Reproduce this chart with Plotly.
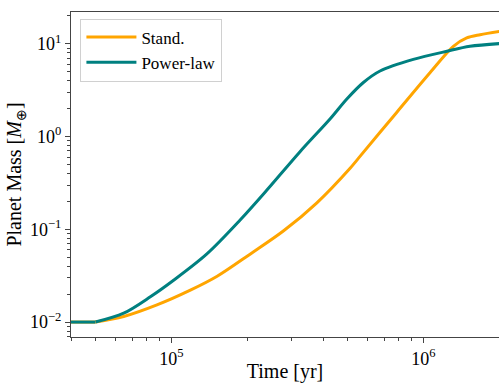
import plotly.graph_objects as go

# Data (time in yr, planet mass in Earth masses)
time_stand = [4.0e4, 5.0e4, 6.47e4, 8.77e4, 1.19e5, 1.52e5, 2.06e5, 2.79e5, 3.78e5,
              5.12e5, 5.52e5, 7.85e5, 1.064e6, 1.315e6, 1.486e6, 1.679e6, 2.0e6]
mass_stand = [0.01, 0.01, 0.01148, 0.01531, 0.02208, 0.03119, 0.05433, 0.09638, 0.1932,
              0.456, 0.582, 1.832, 4.898, 9.397, 11.56, 12.53, 13.58]

time_power = [4.0e4, 5.0e4, 6.47e4, 8.26e4, 1.021e5, 1.384e5, 1.875e5, 2.39e5, 3.24e5,
              4.27e5, 4.97e5, 5.78e5, 6.73e5, 9.12e5, 1.24e6, 1.53e6, 2.0e6]
mass_power = [0.01, 0.01, 0.01247, 0.01875, 0.02825, 0.0543, 0.1259, 0.263, 0.687,
              1.556, 2.541, 3.828, 5.093, 6.792, 8.318, 9.397, 10.05]

series_names = ["Stand.", "Power-law"]
series_colors = ["#FFA500", "#008080"]
kink_index = 1  # end of the flat initial segment (both series)

x_tick_vals = [1e5, 1e6]
x_tick_text = ["10<sup>5</sup>", "10<sup>6</sup>"]
y_tick_vals = [1e-2, 1e-1, 1e0, 1e1]
y_tick_text = ["10<sup>−2</sup>", "10<sup>−1</sup>", "10<sup>0</sup>", "10<sup>1</sup>"]

minor_x = [k * 10 ** e for e in range(4, 7) for k in range(2, 10)]
minor_y = [k * 10 ** e for e in range(-3, 2) for k in range(2, 10)]

FONT = "Liberation Serif, Times New Roman, serif"

fig = go.Figure()
for t, m, name, col in [(time_stand, mass_stand, series_names[0], series_colors[0]),
                        (time_power, mass_power, series_names[1], series_colors[1])]:
    # growth part, smooth
    fig.add_trace(go.Scatter(x=t[kink_index:], y=m[kink_index:], mode="lines", name=name,
                             legendgroup=name,
                             line=dict(color=col, width=3, shape="spline", smoothing=0.9)))
for t, m, name, col in [(time_stand, mass_stand, series_names[0], series_colors[0]),
                        (time_power, mass_power, series_names[1], series_colors[1])]:
    # flat initial part
    fig.add_trace(go.Scatter(x=t[:kink_index + 1], y=m[:kink_index + 1], mode="lines",
                             name=name, legendgroup=name, showlegend=False,
                             line=dict(color=col, width=3)))

axis_common = dict(showgrid=False, zeroline=False, showline=True, linecolor="#444",
                   linewidth=1, ticks="outside", ticklen=5, tickwidth=1, tickcolor="#444",
                   tickfont=dict(family=FONT, size=18, color="black"))

fig.update_xaxes(type="log", range=[4.602, 6.300], tickvals=x_tick_vals, ticktext=x_tick_text,
                 mirror=True,
                 minor=dict(tickvals=minor_x, ticks="outside", ticklen=3, tickcolor="#444"),
                 title=dict(text="Time [yr]", font=dict(family=FONT, size=20, color="black"),
                            standoff=0),
                 **axis_common)
fig.update_yaxes(type="log", range=[-2.161, 1.343], tickvals=y_tick_vals, ticktext=y_tick_text,
                 mirror=False,
                 minor=dict(tickvals=minor_y, ticks="outside", ticklen=3, tickcolor="#444"),
                 title=dict(text="Planet Mass [<i>M</i><sub>⊕</sub>]",
                            font=dict(family=FONT, size=20, color="black"), standoff=2),
                 **axis_common)

fig.update_layout(
    width=499, height=383,
    margin=dict(l=71, r=0, t=12, b=42),
    paper_bgcolor="white", plot_bgcolor="white",
    font=dict(family=FONT, color="black"),
    legend=dict(x=0.022, y=0.98, xanchor="left", yanchor="top",
                bgcolor="rgba(255,255,255,0.8)", bordercolor="#d0d0d0", borderwidth=1,
                itemwidth=50, traceorder="normal",
                font=dict(family=FONT, size=17, color="black"), tracegroupgap=0),
)

fig.write_html("out.html")
